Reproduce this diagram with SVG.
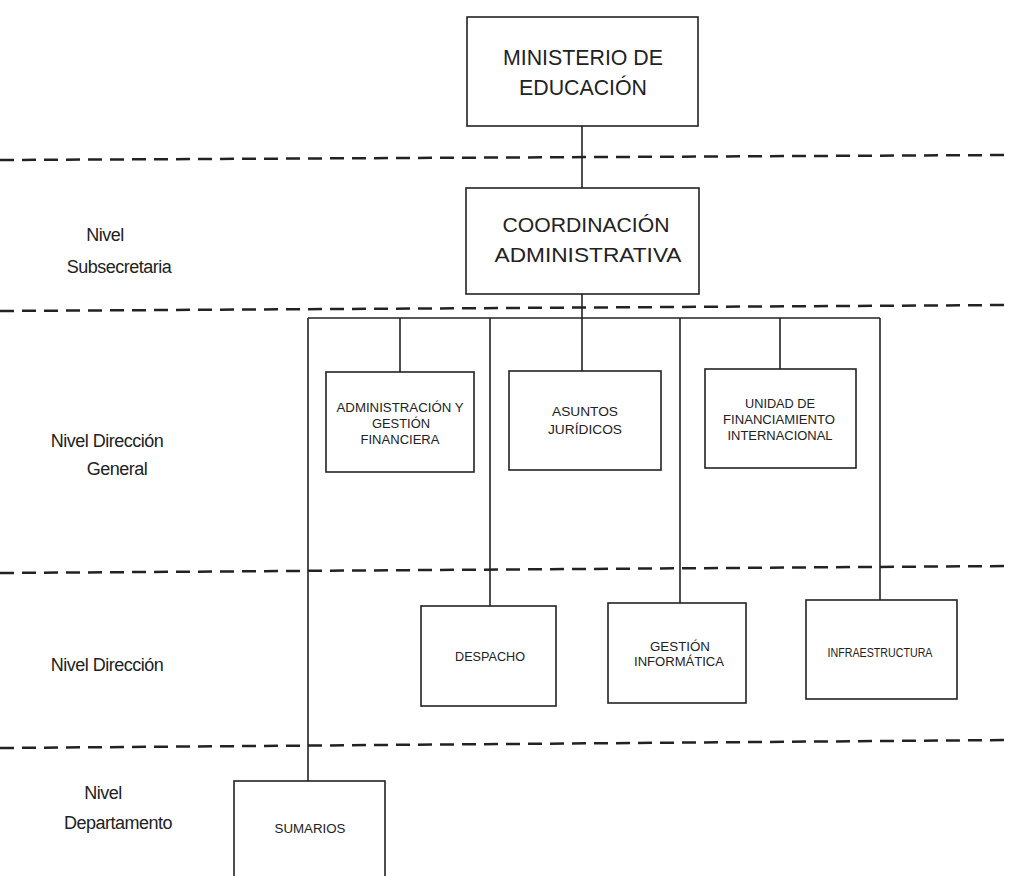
<svg xmlns="http://www.w3.org/2000/svg" width="1011" height="876" viewBox="0 0 1011 876">
<style>
.box{fill:#fff;stroke:#222;stroke-width:1.6}
.dash{stroke:#222;stroke-width:2.5;stroke-dasharray:14 8;fill:none}
.con{stroke:#222;stroke-width:1.6;fill:none}
.big{font-family:"Liberation Sans",Arial,sans-serif;font-size:22px;fill:#222;text-anchor:middle}
.sm{font-family:"Liberation Sans",Arial,sans-serif;font-size:12px;fill:#222;text-anchor:middle}
.lvl{font-family:"Liberation Sans",Arial,sans-serif;font-size:18px;fill:#222;text-anchor:middle;letter-spacing:-0.5px}
</style>
<rect width="1011" height="876" fill="#fff"/>
<g id="levels">
<line class="dash" x1="0" y1="160" x2="1011" y2="155"/>
<line class="dash" x1="0" y1="311" x2="1011" y2="305"/>
<line class="dash" x1="0" y1="573" x2="1011" y2="566"/>
<line class="dash" x1="0" y1="748" x2="1011" y2="740"/>
<text class="lvl" x="105" y="241">Nivel</text>
<text class="lvl" x="119" y="273">Subsecretaria</text>
<text class="lvl" x="107" y="447">Nivel Dirección</text>
<text class="lvl" x="117" y="475">General</text>
<text class="lvl" x="107" y="671">Nivel Dirección</text>
<text class="lvl" x="103" y="799">Nivel</text>
<text class="lvl" x="118" y="829">Departamento</text>
</g>
<g id="connectors">
<line class="con" x1="582" y1="126" x2="582" y2="188"/>
<line class="con" x1="582" y1="294" x2="582" y2="371"/>
<line class="con" x1="308" y1="318" x2="880" y2="318"/>
<line class="con" x1="308" y1="318" x2="308" y2="781"/>
<line class="con" x1="400" y1="318" x2="400" y2="372"/>
<line class="con" x1="490" y1="318" x2="490" y2="606"/>
<line class="con" x1="680" y1="318" x2="680" y2="603"/>
<line class="con" x1="780" y1="318" x2="780" y2="369"/>
<line class="con" x1="880" y1="318" x2="880" y2="600"/>
</g>
<g id="ministerio">
<rect class="box" x="467" y="17" width="231" height="109"/>
<text class="big" x="583" y="65" textLength="160" lengthAdjust="spacingAndGlyphs">MINISTERIO DE</text>
<text class="big" x="583" y="95" textLength="128" lengthAdjust="spacingAndGlyphs">EDUCACIÓN</text>
</g>
<g id="coordinacion">
<rect class="box" x="466" y="188" width="233" height="106"/>
<text class="big" x="586" y="232" style="font-size:21px" textLength="167" lengthAdjust="spacingAndGlyphs">COORDINACIÓN</text>
<text class="big" x="588" y="262" style="font-size:21px" textLength="187" lengthAdjust="spacingAndGlyphs">ADMINISTRATIVA</text>
</g>
<g id="admin">
<rect class="box" x="326" y="372" width="148" height="100"/>
<text class="sm" x="400" y="412" textLength="127" lengthAdjust="spacingAndGlyphs">ADMINISTRACIÓN Y</text>
<text class="sm" x="401" y="428" textLength="58" lengthAdjust="spacingAndGlyphs">GESTIÓN</text>
<text class="sm" x="400" y="444" textLength="79" lengthAdjust="spacingAndGlyphs">FINANCIERA</text>
</g>
<g id="asuntos">
<rect class="box" x="509" y="371" width="152" height="99"/>
<text class="sm" x="585" y="416" textLength="66" lengthAdjust="spacingAndGlyphs">ASUNTOS</text>
<text class="sm" x="585" y="434" textLength="74" lengthAdjust="spacingAndGlyphs">JURÍDICOS</text>
</g>
<g id="unidad">
<rect class="box" x="705" y="369" width="151" height="99"/>
<text class="sm" x="780" y="408" textLength="70" lengthAdjust="spacingAndGlyphs">UNIDAD DE</text>
<text class="sm" x="779" y="424" textLength="112" lengthAdjust="spacingAndGlyphs">FINANCIAMIENTO</text>
<text class="sm" x="780" y="440" textLength="105" lengthAdjust="spacingAndGlyphs">INTERNACIONAL</text>
</g>
<g id="despacho">
<rect class="box" x="421" y="606" width="135" height="100"/>
<text class="sm" x="490" y="661" textLength="70" lengthAdjust="spacingAndGlyphs">DESPACHO</text>
</g>
<g id="gestion">
<rect class="box" x="608" y="603" width="138" height="100"/>
<text class="sm" x="680" y="651" textLength="60" lengthAdjust="spacingAndGlyphs">GESTIÓN</text>
<text class="sm" x="679" y="666" textLength="90" lengthAdjust="spacingAndGlyphs">INFORMÁTICA</text>
</g>
<g id="infraestructura">
<rect class="box" x="806" y="600" width="151" height="99"/>
<text class="sm" x="880" y="657" textLength="105" lengthAdjust="spacingAndGlyphs">INFRAESTRUCTURA</text>
</g>
<g id="sumarios">
<rect class="box" x="234" y="781" width="151" height="100"/>
<text class="sm" x="310" y="833" textLength="71" lengthAdjust="spacingAndGlyphs">SUMARIOS</text>
</g>
</svg>
